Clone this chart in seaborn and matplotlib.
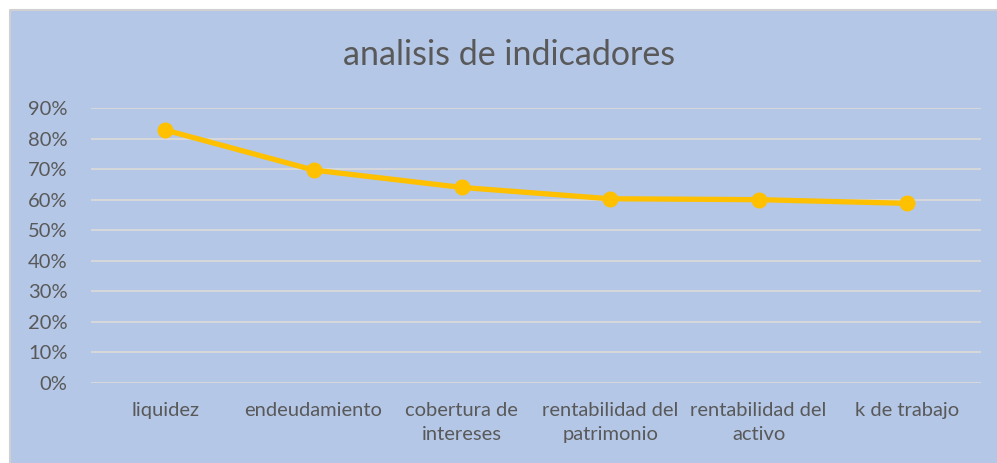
import numpy as np
import pandas as pd
import matplotlib.pyplot as plt
import seaborn as sns
from matplotlib.patches import Rectangle
from matplotlib.lines import Line2D
from matplotlib.ticker import PercentFormatter

# datos del grafico
indicadores = ["liquidez", "endeudamiento", "cobertura de\nintereses",
               "rentabilidad del\npatrimonio", "rentabilidad del\nactivo", "k de trabajo"]
valores = [0.828, 0.697, 0.640, 0.603, 0.600, 0.588]
y_ticks = [0.0, 0.1, 0.2, 0.3, 0.4, 0.5, 0.6, 0.7, 0.8, 0.9]

df = pd.DataFrame({"indicador": indicadores, "valor": valores})

fondo = "#B4C7E7"
texto = "#595959"
grid = "#D9D9D9"

sns.set_style("white")
plt.rcParams["font.family"] = ["Lato", "DejaVu Sans"]

fig = plt.figure(figsize=(9.97, 4.63), dpi=100, facecolor="white")
# area del grafico (recortada a la derecha y abajo)
x0, y1 = 10 / 997, 1 - 10 / 463
fig.patches.append(Rectangle((x0, -0.1), 1.2, y1 + 0.1, transform=fig.transFigure,
                             facecolor=fondo, edgecolor="none", zorder=-5))
fig.lines.append(Line2D([x0, x0, 1.1], [-0.1, y1, y1], transform=fig.transFigure,
                        color="#D0D0D0", linewidth=1.5, zorder=-4))

ax = fig.add_axes([91 / 997, 1 - 383 / 463, 890 / 997, 275 / 463])
ax.set_facecolor("none")

x = np.arange(len(indicadores))
sns.lineplot(x=x, y=df["valor"], ax=ax, color="#FFC000", linewidth=3.8,
             marker="o", markersize=11.5, markeredgewidth=0, zorder=3)

ax.set_xlim(-0.5, len(indicadores) - 0.5)
ax.set_ylim(0, 0.9)
ax.set_yticks(y_ticks)
ax.yaxis.set_major_formatter(PercentFormatter(1.0, decimals=0))
ax.set_xticks(x)
ax.set_xticklabels(indicadores, linespacing=1.5)
ax.grid(axis="y", color=grid, linewidth=1.3)
ax.set_axisbelow(True)
for s in ax.spines.values():
    s.set_visible(False)
ax.tick_params(axis="both", length=0, colors=texto, labelsize=14.5)
ax.tick_params(axis="y", pad=17)
ax.tick_params(axis="x", pad=14)
ax.set_xlabel("")
ax.set_ylabel("")

fig.text(509 / 997, 1 - 55 / 463, "analisis de indicadores", ha="center", va="center",
         fontsize=24.5, color=texto)

fig.savefig("out.png", dpi=100, facecolor=fig.get_facecolor())
